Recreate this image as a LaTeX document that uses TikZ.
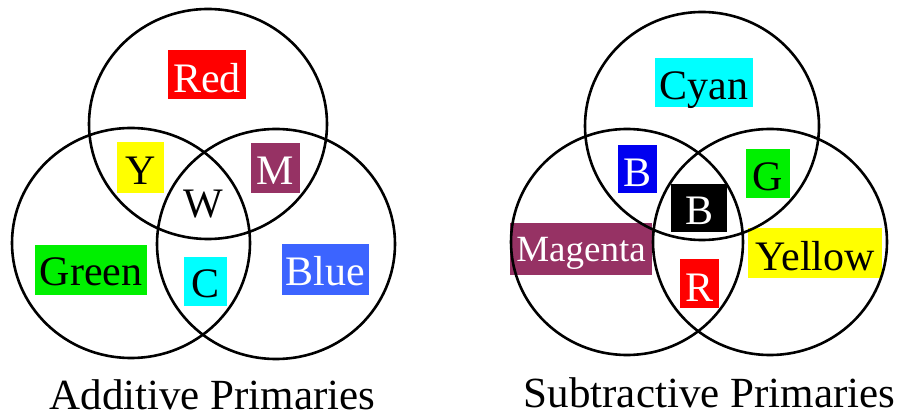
\documentclass[tikz,border=0pt]{standalone}
\usepackage{fontspec}
\setmainfont{Liberation Serif}
\definecolor{cred}{RGB}{255,0,0}
\definecolor{cyellow}{RGB}{255,255,0}
\definecolor{cmag}{RGB}{150,50,100}
\definecolor{cgreen}{RGB}{0,240,0}
\definecolor{ccyan}{RGB}{0,255,255}
\definecolor{cblue}{RGB}{60,100,255}
\definecolor{cpblue}{RGB}{0,0,240}
\tikzset{
  lbl/.style={inner sep=0pt, anchor=base, font=\fontsize{42}{42}\selectfont},
  ring/.style={draw=black, line width=2.6pt},
  title/.style={inner sep=0pt, anchor=base, font=\fontsize{43}{43}\selectfont}
}
\begin{document}
\begin{tikzpicture}[x=1pt,y=-1pt]
\useasboundingbox (0,0) rectangle (900,419);
% ---- Additive labels
\node[lbl, fill=cred, text=white, minimum width=78pt, text height=43pt, text depth=6pt] (red) at (207,93) {Red};
\node[lbl, fill=cyellow, text=black, minimum width=47pt, text height=43pt, text depth=8pt] (ya) at (140.5,185) {Y};
\node[lbl, fill=cmag, text=white, minimum width=49pt, text height=42pt, text depth=8pt] (ma) at (275.5,185) {M};
\node[lbl, text=black] (wa) at (203,218) {W};
\node[lbl, fill=cgreen, text=black, minimum width=112pt, text height=41pt, text depth=9pt] (green) at (91,286) {Green};
\node[lbl, fill=ccyan, text=black, minimum width=43pt, text height=41pt, text depth=8pt] (ca) at (205.5,298) {C};
\node[lbl, fill=cblue, text=white, minimum width=87pt, text height=42pt, text depth=9pt] (blue) at (325.5,286) {Blue};
% ---- Subtractive labels
\node[lbl, fill=ccyan, text=black, minimum width=98pt, text height=42pt, text depth=7pt] (cyan) at (704,100) {Cyan};
\node[lbl, fill=cpblue, text=white, minimum width=39pt, text height=42pt, text depth=6pt] (bs) at (637.5,187) {B};
\node[lbl, fill=cgreen, text=black, minimum width=44pt, text height=42pt, text depth=7pt] (gs) at (768,191) {G};
\node[lbl, fill=black, text=white, minimum width=56pt, text height=41pt, text depth=7pt] (bk) at (699,225) {B};
\node[lbl, fill=cmag, text=white, minimum width=142pt, text height=39pt, text depth=13pt, font=\fontsize{37}{37}\selectfont] (magenta) at (581,262) {Magenta};
\node[lbl, fill=cyellow, text=black, minimum width=134pt, text height=43pt, text depth=7pt] (yellow) at (815,271) {Yellow};
\node[lbl, fill=cred, text=white, minimum width=39pt, text height=43pt, text depth=6pt] (rs) at (699.5,302) {R};
% ---- circles
\draw[ring] (208,124) ellipse [x radius=119pt, y radius=115pt];
\draw[ring] (131,243) ellipse [x radius=119pt, y radius=115pt];
\draw[ring] (276,244) ellipse [x radius=119pt, y radius=115pt];
\draw[ring] (702,126) ellipse [x radius=117pt, y radius=114pt];
\draw[ring] (627,242) ellipse [x radius=116pt, y radius=113pt];
\draw[ring] (770,242) ellipse [x radius=117pt, y radius=113pt];
% ---- titles
\node[title] (addt) at (212.5,410) {Additive Primaries};
\node[title] (subt) at (709.5,408) {Subtractive Primaries};
\end{tikzpicture}
\end{document}
